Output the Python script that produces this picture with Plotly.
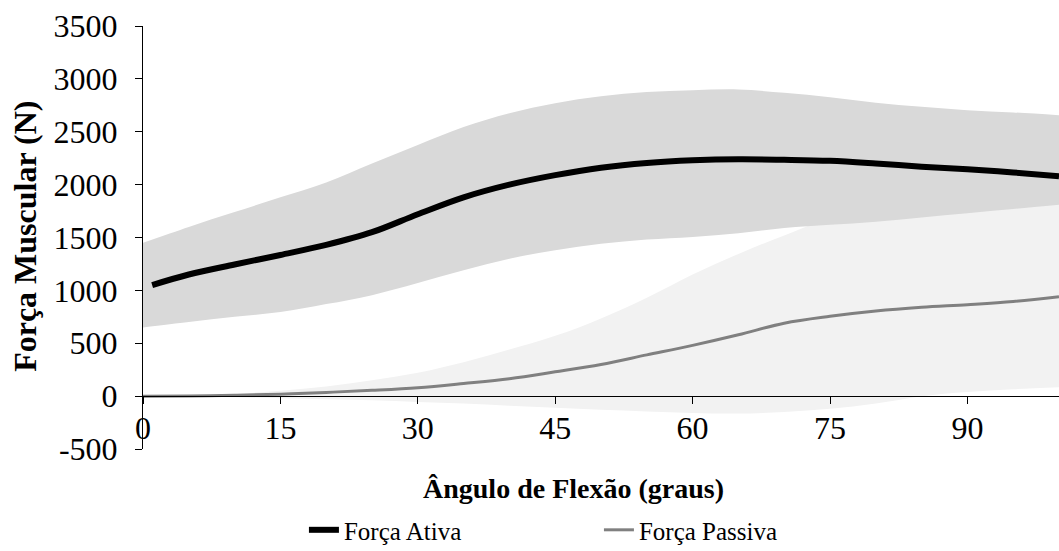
import plotly.graph_objects as go

# Angles (degrees)
angle_band = [0, 5, 10, 15, 20, 25, 30, 35, 40, 45, 50, 55, 60, 65, 70, 75, 80, 85, 90, 95, 100]
angle_line = [1, 5, 10, 15, 20, 25, 30, 35, 40, 45, 50, 55, 60, 65, 70, 75, 80, 85, 90, 95, 100]

# Força Ativa (mean and +/- SD band)
ativa_mean = [1050, 1150, 1245, 1335, 1430, 1550, 1720, 1880, 2000, 2090, 2160, 2205, 2230, 2240, 2235, 2225, 2200, 2170, 2145, 2115, 2080]
ativa_upper = [1450, 1600, 1740, 1880, 2020, 2200, 2375, 2545, 2675, 2770, 2835, 2875, 2893, 2900, 2868, 2827, 2775, 2736, 2704, 2683, 2657]
ativa_lower = [650, 700, 750, 795, 870, 955, 1070, 1190, 1300, 1380, 1440, 1480, 1505, 1540, 1590, 1620, 1650, 1690, 1730, 1770, 1810]

# Força Passiva (mean and +/- SD band)
passiva_mean = [0, 2, 8, 18, 35, 55, 80, 120, 165, 230, 300, 390, 480, 580, 690, 755, 805, 840, 865, 895, 940]
passiva_upper = [0, 5, 20, 50, 90, 150, 220, 320, 440, 570, 735, 930, 1150, 1345, 1520, 1680, 1760, 1820, 1870, 1900, 1920]
passiva_lower = [0, -5, -10, -20, -30, -40, -55, -70, -90, -110, -130, -145, -160, -165, -150, -120, -70, 0, 40, 65, 85]

y_ticks = [-500, 0, 500, 1000, 1500, 2000, 2500, 3000, 3500]
y_ticktext = ["-500", "0", "500", "1000", "1500", "2000", "2500", "3000", "3500"]
x_ticks = [0, 15, 30, 45, 60, 75, 90]

FONT = "Liberation Serif, Times New Roman, serif"

fig = go.Figure()

# Passive band (light)
fig.add_trace(go.Scatter(x=angle_band, y=passiva_lower, mode="lines", line=dict(width=0, shape="spline"),
                         showlegend=False, hoverinfo="skip"))
fig.add_trace(go.Scatter(x=angle_band, y=passiva_upper, mode="lines", line=dict(width=0, shape="spline"),
                         fill="tonexty", fillcolor="#f2f2f2", showlegend=False, hoverinfo="skip"))
# Active band (dark)
fig.add_trace(go.Scatter(x=angle_band, y=ativa_lower, mode="lines", line=dict(width=0, shape="spline"),
                         showlegend=False, hoverinfo="skip"))
fig.add_trace(go.Scatter(x=angle_band, y=ativa_upper, mode="lines", line=dict(width=0, shape="spline"),
                         fill="tonexty", fillcolor="#d9d9d9", showlegend=False, hoverinfo="skip"))

fig.add_trace(go.Scatter(x=angle_line, y=ativa_mean, mode="lines", name="Força Ativa",
                         line=dict(color="#000000", width=6, shape="spline")))
fig.add_trace(go.Scatter(x=angle_band, y=passiva_mean, mode="lines", name="Força Passiva",
                         line=dict(color="#808080", width=3, shape="spline")))

fig.update_layout(
    width=1059, height=551,
    margin=dict(l=143, r=0, t=26, b=102, autoexpand=False),
    paper_bgcolor="white", plot_bgcolor="white",
    font=dict(family=FONT, size=32, color="black"),
    showlegend=True,
    legend=dict(orientation="h", xref="container", yref="container",
                x=0.287, xanchor="left", y=0.038, yanchor="middle",
                font=dict(size=25), entrywidth=250, entrywidthmode="pixels",
                bgcolor="rgba(0,0,0,0)", traceorder="normal"),
    xaxis=dict(range=[0, 100], tickvals=x_ticks, ticks="outside", ticklen=7, tickwidth=1,
               tickcolor="black", showline=True, linecolor="black", linewidth=1,
               showgrid=False, zeroline=False, anchor="free", position=0.125,
               ticklabelstandoff=-4, tickfont=dict(size=32), automargin=False),
    yaxis=dict(range=[-500, 3500], tickvals=y_ticks, ticktext=y_ticktext, ticks="outside",
               ticklen=7, tickwidth=1, tickcolor="black", showline=True, linecolor="black",
               linewidth=1, showgrid=False, zeroline=False, tickfont=dict(size=32),
               ticklabelstandoff=11, automargin=False),
    annotations=[
        dict(text="<b>Ângulo de Flexão (graus)</b>", xref="paper", yref="paper",
             x=0.4705, y=0, xanchor="center", yanchor="middle", yshift=-39,
             showarrow=False, font=dict(size=28)),
        dict(text="<b>Força Muscular (N)</b>", xref="paper", yref="paper",
             x=-0.129, y=0.5035, xanchor="center", yanchor="middle", textangle=-90,
             showarrow=False, font=dict(size=32)),
    ],
)

fig.write_html("out.html", config={"displayModeBar": False},
               post_script="document.body.style.margin='0';document.body.style.overflow='hidden';")
